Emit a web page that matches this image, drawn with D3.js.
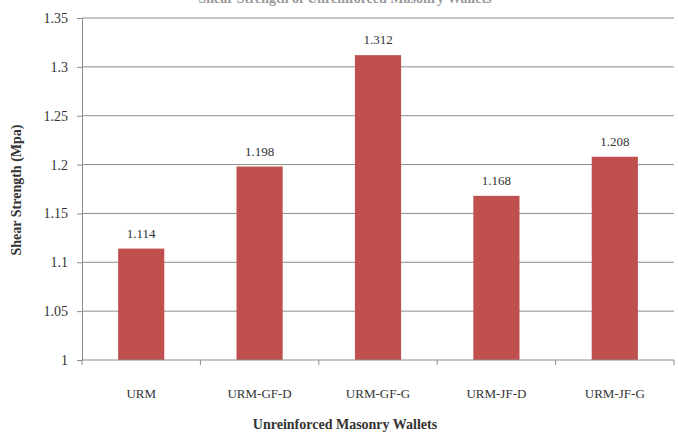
<!DOCTYPE html>
<html>
<head>
<meta charset="utf-8">
<script src="https://cdn.jsdelivr.net/npm/d3@7"></script>
<style>
  body { margin: 0; background: #fff; }
  text { font-family: "Liberation Serif", "Times New Roman", serif; fill: #333; }
</style>
</head>
<body>
<div id="chart"></div>
<script>
// Shear strength of wallets, bar chart in the old Excel style

const categories = ["URM", "URM-GF-D", "URM-GF-G", "URM-JF-D", "URM-JF-G"];
const shearValues = [1.114, 1.198, 1.312, 1.168, 1.208];
const yTicks = [1, 1.05, 1.1, 1.15, 1.2, 1.25, 1.3, 1.35];
const yTickLabels = ["1", "1.05", "1.1", "1.15", "1.2", "1.25", "1.3", "1.35"];

const width = 678, height = 438;
const margin = { top: 18, right: 4, bottom: 78, left: 82 };

const svg = d3.select("#chart")
    .append("svg")
    .attr("width", width)
    .attr("height", height);

const x = d3.scaleBand()
    .domain(categories)
    .range([margin.left, width - margin.right]);

const xBar = d3.scaleBand()
    .domain(categories)
    .range([margin.left, width - margin.right])
    .paddingInner(0.61)
    .paddingOuter(0.305);

const y = d3.scaleLinear()
    .domain([1, 1.35])
    .range([height - margin.bottom, margin.top]);

// title, mostly cut off at the top edge (as in the source image)
svg.append("text")
    .attr("x", 345)
    .attr("y", 3)
    .attr("text-anchor", "middle")
    .style("font-size", "14px")
    .style("font-weight", "bold")
    .style("fill", "#999")
    .text("Shear Strength of Unreinforced Masonry Wallets");

// gridlines
svg.append("g")
    .selectAll("line")
    .data(yTicks.slice(1))
    .join("line")
    .attr("x1", margin.left)
    .attr("x2", width - margin.right)
    .attr("y1", d => y(d))
    .attr("y2", d => y(d))
    .attr("stroke", "#8c8c8c")
    .attr("stroke-width", 1);

// y axis
const yAxis = svg.append("g")
    .attr("transform", `translate(${margin.left},0)`)
    .call(d3.axisLeft(y)
        .tickValues(yTicks)
        .tickFormat((d, i) => yTickLabels[i])
        .tickSize(5)
        .tickPadding(9));
yAxis.select(".domain").attr("stroke", "#8c8c8c");
yAxis.selectAll(".tick line").attr("stroke", "#8c8c8c");
yAxis.selectAll("text")
    .style("font-size", "14px")
    .style("font-family", "'Liberation Serif', serif")
    .attr("fill", "#333");

// bars
svg.append("g")
    .selectAll("rect")
    .data(shearValues)
    .join("rect")
    .attr("x", (d, i) => xBar(categories[i]))
    .attr("y", d => y(d))
    .attr("width", xBar.bandwidth())
    .attr("height", d => y(1) - y(d))
    .attr("fill", "#c0504d");

// value labels
svg.append("g")
    .selectAll("text")
    .data(shearValues)
    .join("text")
    .attr("x", (d, i) => xBar(categories[i]) + xBar.bandwidth() / 2)
    .attr("y", d => y(d) - 11)
    .attr("text-anchor", "middle")
    .style("font-size", "13px")
    .text(d => d3.format(".3f")(d));

// x axis with Excel style tick marks between categories
const xAxisG = svg.append("g")
    .attr("transform", `translate(0,${y(1)})`);
xAxisG.append("line")
    .attr("x1", margin.left)
    .attr("x2", width - margin.right)
    .attr("stroke", "#8c8c8c");
xAxisG.selectAll(".sep")
    .data(categories.map(c => x(c)).concat([width - margin.right]))
    .join("line")
    .attr("class", "sep")
    .attr("x1", d => d)
    .attr("x2", d => d)
    .attr("y1", 0)
    .attr("y2", 5)
    .attr("stroke", "#8c8c8c");
xAxisG.selectAll(".lbl")
    .data(categories)
    .join("text")
    .attr("class", "lbl")
    .attr("x", d => x(d) + x.bandwidth() / 2)
    .attr("y", 38)
    .attr("text-anchor", "middle")
    .style("font-size", "13px")
    .text(d => d);

// axis titles
svg.append("text")
    .attr("x", 345)
    .attr("y", 429)
    .attr("text-anchor", "middle")
    .style("font-size", "14px")
    .style("font-weight", "bold")
    .text("Unreinforced Masonry Wallets");

svg.append("text")
    .attr("transform", "translate(21,190) rotate(-90)")
    .attr("text-anchor", "middle")
    .style("font-size", "14px")
    .style("font-weight", "bold")
    .text("Shear Strength (Mpa)");
</script>
</body>
</html>
